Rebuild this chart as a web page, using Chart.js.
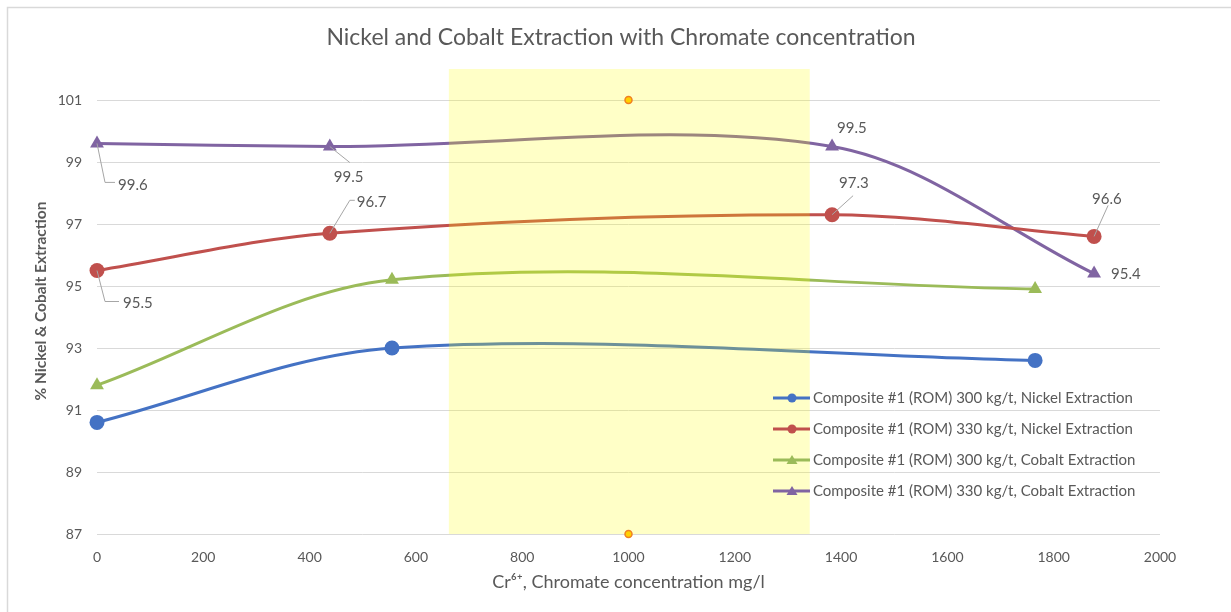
<!DOCTYPE html>
<html>
<head>
<meta charset="utf-8">
<script src="https://cdn.jsdelivr.net/npm/chart.js@4/dist/chart.umd.min.js"></script>
<style>
  html, body { margin: 0; padding: 0; background: #fff; }
  #wrap { width: 1231px; height: 612px; position: relative; }
</style>
</head>
<body>
<div id="wrap"><canvas id="extractionChart" width="1231" height="612"></canvas></div>
<script>
/* =======================================================
   NICKEL / COBALT EXTRACTION - CHROMATE CONCENTRATION
   ======================================================= */

// ===== DADOS =====
const seriesNames = [
  "Composite #1 (ROM) 300 kg/t, Nickel Extraction",
  "Composite #1 (ROM) 330 kg/t, Nickel Extraction",
  "Composite #1 (ROM) 300 kg/t, Cobalt Extraction",
  "Composite #1 (ROM) 330 kg/t, Cobalt Extraction"
];
const ni300X = [0, 555, 1765];
const ni300Y = [90.6, 93.0, 92.6];
const ni330X = [0, 438, 1383, 1876];
const ni330Y = [95.5, 96.7, 97.3, 96.6];
const co300X = [0, 555, 1765];
const co300Y = [91.8, 95.2, 94.9];
const co330X = [0, 438, 1383, 1876];
const co330Y = [99.6, 99.5, 99.5, 95.4];

// faixa amarela e marcadores laranja
const bandX = [662, 1341];
const bandY = [87, 102];
const handleX = [1000, 1000];
const handleY = [101, 87];

const xTicks = [0, 200, 400, 600, 800, 1000, 1200, 1400, 1600, 1800, 2000];
const yTicks = [87, 89, 91, 93, 95, 97, 99, 101];

const chartTitle = "Nickel and Cobalt Extraction with Chromate concentration";
const xTitle = "Cr\u2076\u207A, Chromate concentration mg/l";
const yTitle = "% Nickel & Cobalt Extraction";

// ===== ESTILO =====
const cores = ["#4472C4", "#C0504D", "#9BBB59", "#8064A2"];
const estilos = ["circle", "circle", "triangle", "triangle"];
const FONT = "Lato, 'Open Sans', sans-serif";
const TXT = "#595959";

// posicao dos rotulos (dataset, ponto, dx, dy, linha guia)
const rotulos = [
  { ds: 3, i: 0, dx: 21, dy: 42, guia: [[0, 0], [8, 39], [18, 39]] },
  { ds: 3, i: 1, dx: 4, dy: 31, guia: [[0, 0], [20, 16]] },
  { ds: 3, i: 2, dx: 5, dy: -18, guia: null },
  { ds: 3, i: 3, dx: 17, dy: 1, guia: null },
  { ds: 1, i: 0, dx: 26, dy: 33, guia: [[0, 0], [8, 31], [22, 31]] },
  { ds: 1, i: 1, dx: 27, dy: -31, guia: [[0, 0], [20, -33], [25, -33]] },
  { ds: 1, i: 2, dx: 7, dy: -32, guia: [[0, 0], [21, -19]] },
  { ds: 1, i: 3, dx: -2, dy: -37, guia: [[0, 0], [14, -31]] }
];

const pares = (xs, ys) => xs.map((x, i) => ({ x: x, y: ys[i] }));

const linhas = [
  pares(ni300X, ni300Y),
  pares(ni330X, ni330Y),
  pares(co300X, co300Y),
  pares(co330X, co330Y)
].map((d, i) => ({
  label: seriesNames[i],
  data: d,
  borderColor: cores[i],
  backgroundColor: cores[i],
  borderWidth: 3,
  pointStyle: estilos[i],
  pointRadius: estilos[i] === "circle" ? 7.5 : 8,
  pointBorderWidth: 0,
  tension: 0.33,
  order: 1,
  clip: false
}));

const handles = {
  label: "handles",
  data: pares(handleX, handleY),
  showLine: false,
  pointRadius: 3.5,
  pointBorderWidth: 1.5,
  backgroundColor: "#FFD000",
  borderColor: "#F08020",
  order: 0,
  clip: false
};

// ===== PLUGIN DE DESENHO =====
const extras = {
  id: "extras",
  beforeDraw(chart) {
    const ctx = chart.ctx;
    ctx.save();
    ctx.fillStyle = "#fff";
    ctx.fillRect(0, 0, chart.width, chart.height);
    ctx.strokeStyle = "#D9D9D9";
    ctx.lineWidth = 1.5;
    ctx.strokeRect(7.5, 7.5, chart.width + 20, chart.height + 20);
    ctx.restore();
  },
  beforeDatasetDraw(chart, args) {
    // a faixa amarela fica por cima das linhas, abaixo dos marcadores laranja
    if (chart.data.datasets[args.index].label !== "handles") return;
    const x = chart.scales.x, y = chart.scales.y;
    const ctx = chart.ctx;
    ctx.save();
    ctx.fillStyle = "rgba(255, 255, 0, 0.22)";
    const l = x.getPixelForValue(bandX[0]), r = x.getPixelForValue(bandX[1]);
    const t = y.getPixelForValue(bandY[1]), b = y.getPixelForValue(bandY[0]);
    ctx.fillRect(l, t, r - l, b - t);
    ctx.restore();
  },
  afterDraw(chart) {
    const ctx = chart.ctx;
    const area = chart.chartArea;
    ctx.save();

    // titulo
    ctx.fillStyle = TXT;
    ctx.textAlign = "center";
    ctx.textBaseline = "middle";
    ctx.font = "23px " + FONT;
    ctx.fillText(chartTitle, 621, 38);

    // titulos dos eixos
    ctx.font = "18px " + FONT;
    ctx.fillText(xTitle, (area.left + area.right) / 2, 582);
    ctx.save();
    ctx.translate(41, 301);
    ctx.rotate(-Math.PI / 2);
    ctx.font = "bold 15.5px " + FONT;
    ctx.fillText(yTitle, 0, 0);
    ctx.restore();

    // rotulos de dados
    ctx.font = "15px " + FONT;
    ctx.textAlign = "left";
    rotulos.forEach(r => {
      const el = chart.getDatasetMeta(r.ds).data[r.i];
      const val = chart.data.datasets[r.ds].data[r.i].y;
      if (r.guia) {
        ctx.strokeStyle = "#A6A6A6";
        ctx.lineWidth = 1;
        ctx.beginPath();
        r.guia.forEach((p, k) => {
          if (k === 0) ctx.moveTo(el.x + p[0], el.y + p[1]);
          else ctx.lineTo(el.x + p[0], el.y + p[1]);
        });
        ctx.stroke();
      }
      ctx.fillStyle = TXT;
      ctx.fillText(val.toFixed(1), el.x + r.dx, el.y + r.dy);
    });

    // legenda dentro da area do grafico
    ctx.font = "15px " + FONT;
    linhas.forEach((ds, i) => {
      const yy = 398 + 31 * i;
      ctx.strokeStyle = ds.borderColor;
      ctx.lineWidth = 3;
      ctx.beginPath();
      ctx.moveTo(773, yy);
      ctx.lineTo(810, yy);
      ctx.stroke();
      ctx.fillStyle = ds.borderColor;
      ctx.beginPath();
      if (ds.pointStyle === "circle") {
        ctx.arc(792, yy, 4.5, 0, Math.PI * 2);
      } else {
        ctx.moveTo(792, yy - 5);
        ctx.lineTo(797.5, yy + 4);
        ctx.lineTo(786.5, yy + 4);
        ctx.closePath();
      }
      ctx.fill();
      ctx.fillStyle = TXT;
      ctx.textBaseline = "middle";
      ctx.fillText(ds.label, 813, yy);
    });

    ctx.restore();
  }
};

// ===== GRAFICO =====
new Chart(document.getElementById("extractionChart"), {
  type: "line",
  data: { datasets: [...linhas, handles] },
  options: {
    responsive: false,
    devicePixelRatio: 1,
    animation: false,
    layout: { padding: { left: 0, top: 100, right: 71, bottom: 0 } },
    plugins: {
      legend: { display: false },
      tooltip: { enabled: false },
      title: { display: false }
    },
    scales: {
      x: {
        type: "linear",
        min: 0,
        max: 2000,
        afterBuildTicks: s => { s.ticks = xTicks.map(v => ({ value: v })); },
        afterFit: s => { s.height = 78; },
        grid: { display: false, drawTicks: false },
        border: { display: false },
        ticks: {
          color: TXT,
          font: { size: 14, family: FONT },
          padding: 15,
          maxRotation: 0,
          callback: v => String(v)
        }
      },
      y: {
        min: 87,
        max: 101,
        afterBuildTicks: s => { s.ticks = yTicks.map(v => ({ value: v })); },
        afterFit: s => { s.width = 97; },
        grid: { color: "#D9D9D9", lineWidth: 1, drawTicks: false },
        border: { display: false },
        ticks: { color: TXT, font: { size: 14, family: FONT }, padding: 15 }
      }
    }
  },
  plugins: [extras]
});
</script>
</body>
</html>
